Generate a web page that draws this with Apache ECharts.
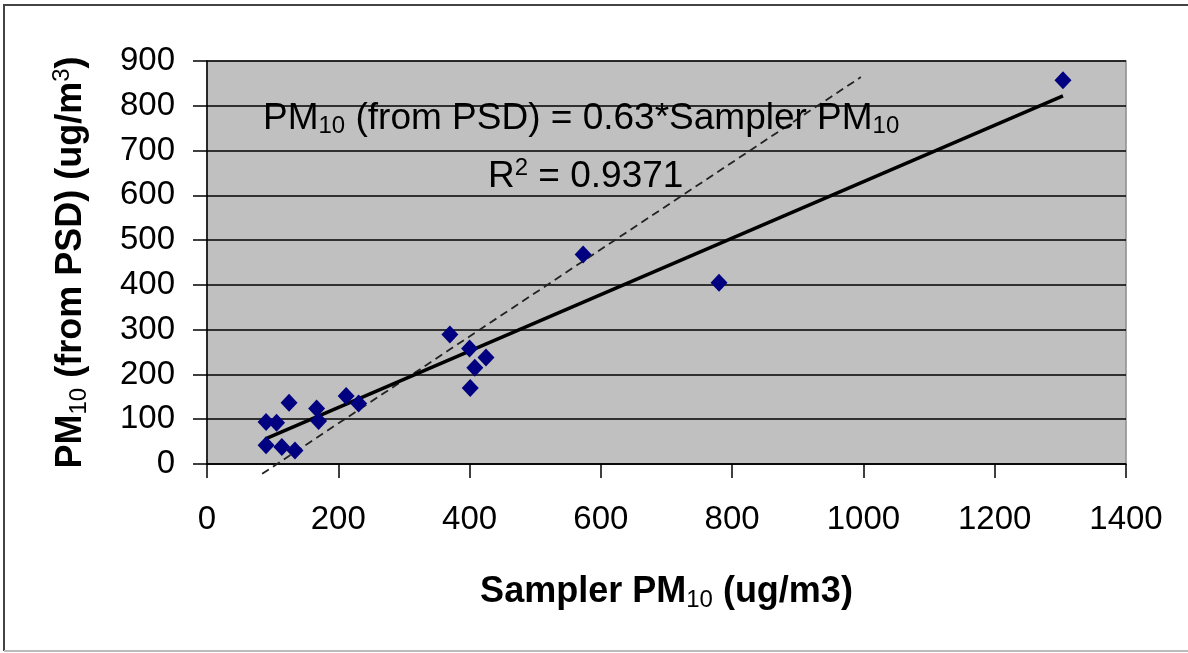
<!DOCTYPE html>
<html>
<head>
<meta charset="utf-8">
<script src="https://cdn.jsdelivr.net/npm/echarts@6/dist/echarts.min.js"></script>
<style>
  html, body { margin: 0; padding: 0; background: #fff; }
  #chart { width: 1188px; height: 653px; }
</style>
</head>
<body>
<div id="chart"></div>
<script>
// measured points: sampler PM10 vs PM10 from PSD
const samplerPM = [90, 106, 125, 90, 114, 134, 167, 170, 212, 231, 370, 400, 425, 408, 401, 573, 780, 1304];
const psdPM = [94, 92, 137, 42, 38, 30, 124, 96, 152, 135, 289, 258, 238, 215, 170, 468, 405, 857];
// fitted line y = 0.63x, ends
const fitLine = [[89, 56], [1304, 822]];
// hand drawn dashed guide
const guideLine = [[84, -22], [996, 864]];
const xTicks = { min: 0, max: 1400, step: 200 };
const yTicks = { min: 0, max: 900, step: 100 };

const font = 'Liberation Sans, Arial, sans-serif';
const points = samplerPM.map((x, i) => [x, psdPM[i]]);

const chart = echarts.init(document.getElementById('chart'));
chart.setOption({
  animation: false,
  grid: {
    left: 207, top: 61, right: 62, bottom: 189,
    show: true, backgroundColor: '#c0c0c0', borderColor: '#8c8c8c', borderWidth: 1.5
  },
  xAxis: {
    type: 'value',
    min: xTicks.min, max: xTicks.max, interval: xTicks.step,
    axisLine: { show: true, onZero: false, lineStyle: { color: '#000', width: 1.5 } },
    axisTick: { show: true, length: 14, lineStyle: { color: '#000', width: 1.5 } },
    axisLabel: { color: '#000', fontFamily: font, fontSize: 33, margin: 39, formatter: v => String(v) },
    splitLine: { show: false },
    name: '{b|Sampler PM}{s|10}{b| (ug/m3)}',
    nameLocation: 'middle',
    nameGap: 108,
    nameTextStyle: {
      rich: {
        b: { fontFamily: font, fontSize: 36, fontWeight: 'bold', color: '#000' },
        s: { fontFamily: font, fontSize: 24, color: '#000', padding: [16, 0, 0, 0] }
      }
    }
  },
  yAxis: {
    type: 'value',
    min: yTicks.min, max: yTicks.max, interval: yTicks.step,
    axisLine: { show: true, onZero: false, lineStyle: { color: '#000', width: 1.5 } },
    axisTick: { show: true, length: 14, lineStyle: { color: '#000', width: 1.5 } },
    axisLabel: { color: '#000', fontFamily: font, fontSize: 33, margin: 32, formatter: v => String(v) },
    splitLine: { show: true, lineStyle: { color: '#000', width: 1.5 } },
    name: '{b|PM}{s|10}{b| (from PSD) (ug/m}{u|3}{b|)}',
    nameLocation: 'middle',
    nameGap: 115,
    nameTextStyle: {
      rich: {
        b: { fontFamily: font, fontSize: 36, fontWeight: 'bold', color: '#000' },
        s: { fontFamily: font, fontSize: 24, color: '#000', padding: [16, 0, 0, 0] },
        u: { fontFamily: font, fontSize: 24, color: '#000', padding: [0, 0, 18, 0] }
      }
    }
  },
  series: [
    {
      type: 'line',
      data: guideLine,
      symbol: 'none',
      clip: false,
      lineStyle: { color: '#222', width: 1.8, type: [8, 5] },
      z: 2
    },
    {
      type: 'line',
      data: fitLine,
      symbol: 'none',
      lineStyle: { color: '#000', width: 3.5 },
      z: 3
    },
    {
      type: 'scatter',
      data: points,
      symbol: 'diamond',
      symbolSize: [17, 18],
      itemStyle: { color: '#000080', opacity: 1 },
      z: 4
    }
  ],
  graphic: [
    {
      type: 'text', left: 263, top: 100, z: 10,
      style: {
        text: '{n|PM}{s|10}{n| (from PSD) = 0.63*Sampler PM}{s|10}',
        rich: {
          n: { fontFamily: font, fontSize: 37, fill: '#000' },
          s: { fontFamily: font, fontSize: 24, fill: '#000', padding: [16, 0, 0, 0] }
        }
      }
    },
    {
      type: 'text', left: 488, top: 156, z: 10,
      style: {
        text: '{n|R}{u|2}{n| = 0.9371}',
        rich: {
          n: { fontFamily: font, fontSize: 37, fill: '#000' },
          u: { fontFamily: font, fontSize: 24, fill: '#000', padding: [0, 0, 18, 0] }
        }
      }
    },
    {
      type: 'polyline', z: 10,
      shape: { points: [[4, 651], [4, 5], [1188, 5]] },
      style: { stroke: '#444', lineWidth: 2, fill: null }
    },
    {
      type: 'line', z: 10,
      shape: { x1: 4, y1: 651, x2: 1188, y2: 651 },
      style: { stroke: '#bbb', lineWidth: 2 }
    }
  ]
});
</script>
</body>
</html>
